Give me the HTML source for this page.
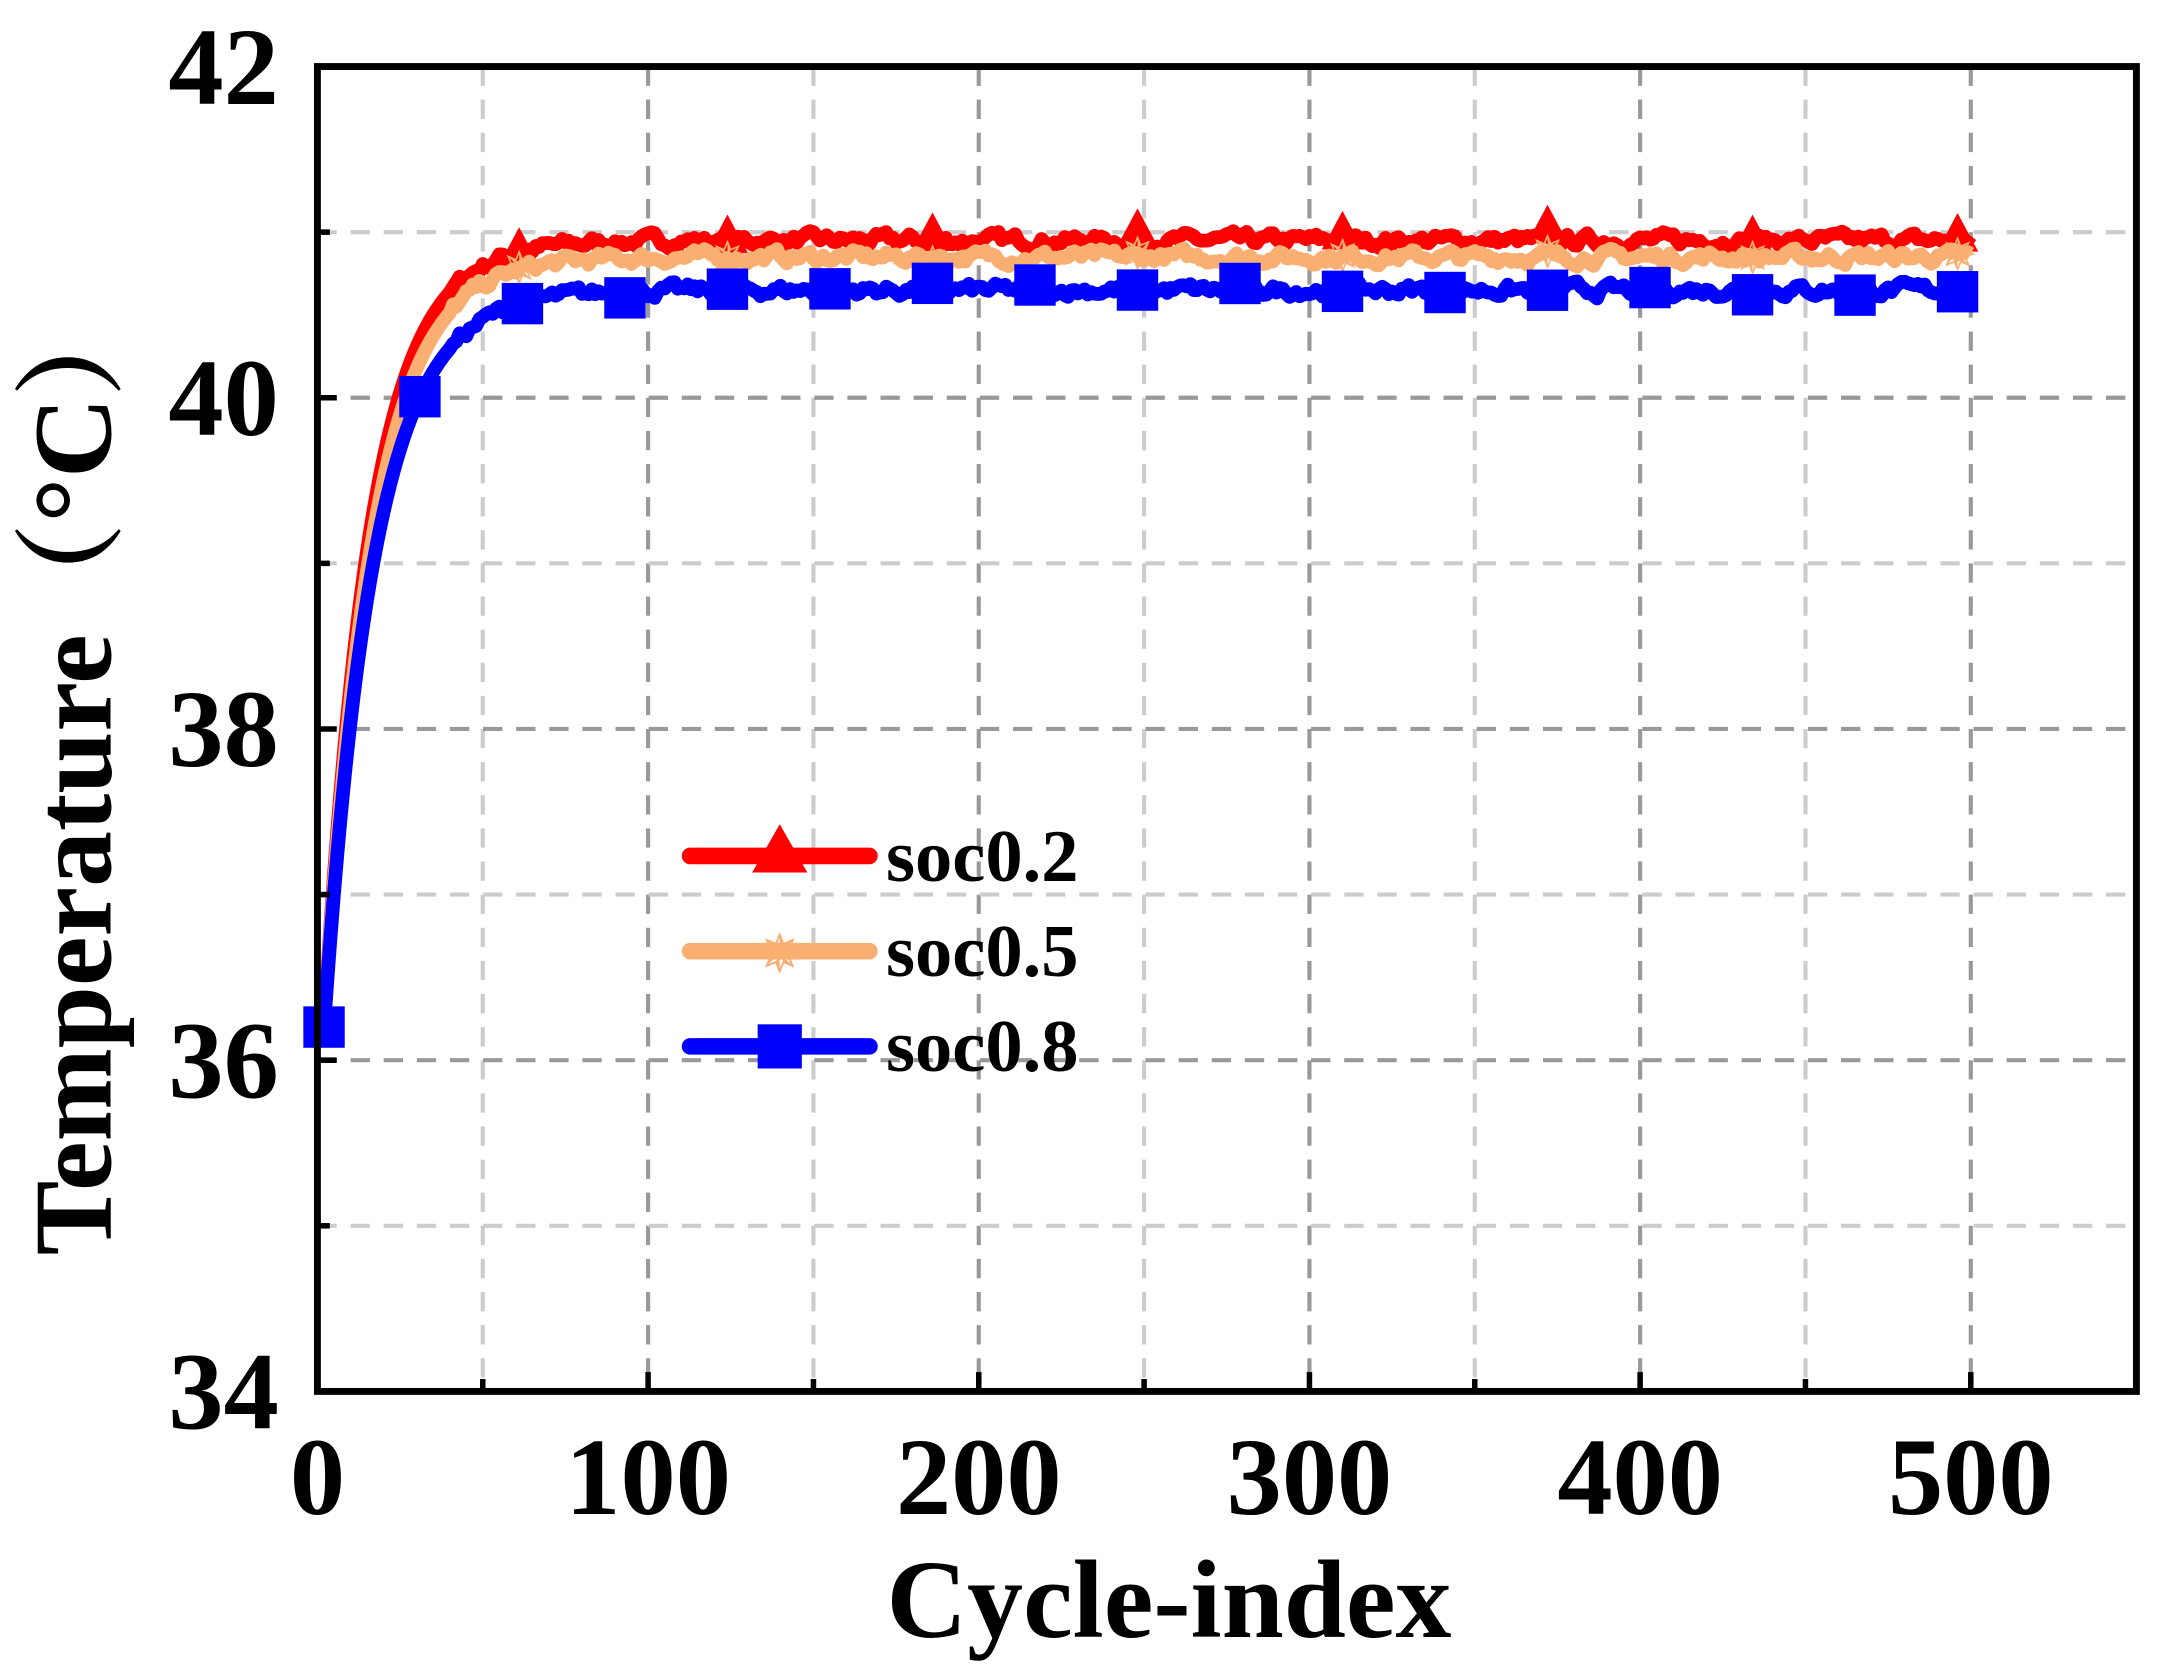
<!DOCTYPE html>
<html><head><meta charset="utf-8"><style>
html,body{margin:0;padding:0;background:#fff;}
svg{display:block;}
text{font-family:"Liberation Serif","Noto Serif CJK SC",serif;font-weight:bold;fill:#000;}
</style></head><body>
<svg id="s" width="2164" height="1676" viewBox="0 0 1568 1214" xmlns="http://www.w3.org/2000/svg">
<g id="grid"></g>
<g id="data"></g>
<rect x="230" y="48" width="1318" height="960" fill="none" stroke="#000" stroke-width="5"/>
<g id="ticks"></g>
<text x="230" y="1097" font-size="80" text-anchor="middle">0</text>
<text x="469.6" y="1097" font-size="80" text-anchor="middle">100</text>
<text x="709.2" y="1097" font-size="80" text-anchor="middle">200</text>
<text x="948.8" y="1097" font-size="80" text-anchor="middle">300</text>
<text x="1188.4" y="1097" font-size="80" text-anchor="middle">400</text>
<text x="1428" y="1097" font-size="80" text-anchor="middle">500</text>
<text x="202" y="1035" font-size="80" text-anchor="end">34</text>
<text x="202" y="795" font-size="80" text-anchor="end">36</text>
<text x="202" y="555" font-size="80" text-anchor="end">38</text>
<text x="202" y="315" font-size="80" text-anchor="end">40</text>
<text x="202" y="75" font-size="80" text-anchor="end">42</text>
<text x="847" y="1186" font-size="81" text-anchor="middle">Cycle-index</text>
<text transform="translate(80,558) rotate(-90)" font-size="81" text-anchor="middle">Temperature（°C）</text>
<g id="legend">
<line x1="500" y1="620" x2="630" y2="620" stroke="#ff0000" stroke-width="12" stroke-linecap="round"/>
<polygon points="565,597 585,632 545,632" fill="#ff0000"/>
<text x="642" y="638" font-size="54">soc0.2</text>
<line x1="500" y1="689" x2="630" y2="689" stroke="#f9ae72" stroke-width="12" stroke-linecap="round"/>
<text x="565" y="705" font-size="40" text-anchor="middle" style="fill:#f9ae72;font-weight:normal">✵</text>
<text x="642" y="707" font-size="54">soc0.5</text>
<line x1="500" y1="758" x2="630" y2="758" stroke="#0000ff" stroke-width="12" stroke-linecap="round"/>
<rect x="549" y="742" width="32" height="32" fill="#0000ff"/>
<text x="642" y="776" font-size="54">soc0.8</text>
</g>
</svg>
<script>
var NS="http://www.w3.org/2000/svg";
function X(c){return 230+c*2.396;}
function Y(t){return 48+(42-t)*120;}
function el(p,n,a){var e=document.createElementNS(NS,n);for(var k in a)e.setAttribute(k,a[k]);p.appendChild(e);return e;}
var g=document.getElementById('grid');
for(var c=50;c<=550;c+=50){var maj=c%100==0;el(g,'line',{x1:X(c),x2:X(c),y1:48,y2:1008,stroke:maj?'#999':'#ccc','stroke-width':3,'stroke-dasharray':'14,10'});}
for(var t=35;t<=41;t++){var maj=t%2==0;el(g,'line',{x1:230,x2:1548,y1:Y(t),y2:Y(t),stroke:maj?'#999':'#ccc','stroke-width':3,'stroke-dasharray':'14,10'});}
var tk=document.getElementById('ticks');
for(var c=50;c<=500;c+=50){var L=c%100==0?14:9;el(tk,'line',{x1:X(c),x2:X(c),y1:1008,y2:1008-L,stroke:'#000','stroke-width':4});}
for(var t=35;t<=41;t++){var L=t%2==0?14:9;el(tk,'line',{x1:230,x2:230+L,y1:Y(t),y2:Y(t),stroke:'#000','stroke-width':4});}
var seed=7;function rnd(){seed=(seed*16807)%2147483647;return seed/2147483647-0.5;}
function curve(plateau,shift){var pts=[];var n=0;
for(var c=2;c<=500;c++){var base=36.2+(plateau-36.2)*(1-Math.exp(-(c-2)/(14+shift)));n=n*0.6+rnd()*0.06;pts.push([c,base+(c>40?n:0)]);}return pts;}
var d=document.getElementById('data');
var series=[[40.95,'#ff0000',0,'tri'],[40.85,'#f9ae72',0.5,'star'],[40.65,'#0000ff',1,'sq']];
series.forEach(function(s){var pts=curve(s[0],s[2]);
el(d,'polyline',{points:pts.map(function(p){return X(p[0])+','+Y(p[1]);}).join(' '),fill:'none',stroke:s[1],'stroke-width':10,'stroke-linejoin':'round'});
var step=s[3]=='sq'?31:62;var list=[2];for(var c=step==31?31:62;c<=496;c+=step)list.push(c);if(s[3]!='sq'){list=[2].concat([61,124,186,248,310,372,434,496]);}
list.forEach(function(c){var p=pts[Math.min(c-2,pts.length-1)];var x=X(c),y=Y(p[1]);
if(s[3]=='tri')el(d,'polygon',{points:(x)+','+(y-20)+' '+(x+15)+','+(y+8)+' '+(x-15)+','+(y+8),fill:s[1]});
else if(s[3]=='sq')el(d,'rect',{x:x-15,y:y-15,width:30,height:30,fill:s[1]});
else{var t=el(d,'text',{x:x,y:y+12,'font-size':34,'text-anchor':'middle',style:'fill:'+s[1]+';font-weight:normal'});t.textContent='✵';}
});});
</script>
</body></html>
